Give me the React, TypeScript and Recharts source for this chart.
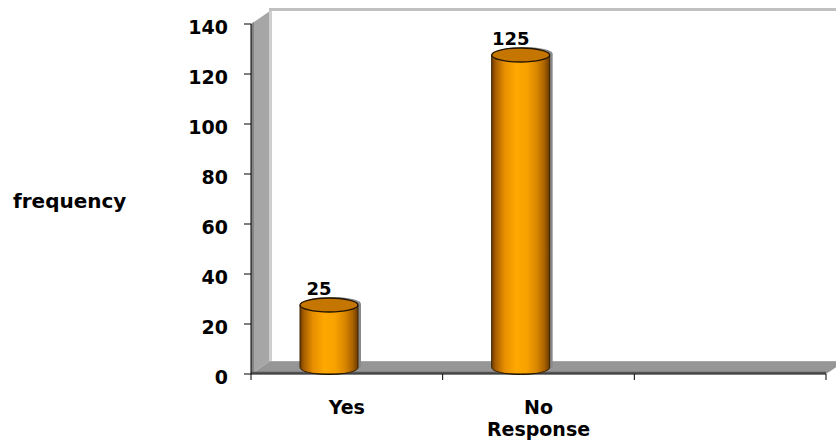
import React from 'react';
import { BarChart, Bar, XAxis, YAxis, LabelList, ReferenceArea, Label } from 'recharts';

// Survey answers and their counts
const categories = ['Yes', 'No', ''];
const frequencies: (number | null)[] = [25, 125, null];
const yTicks = [0, 20, 40, 60, 80, 100, 120, 140];

const data = categories.map((response, i) => ({ response, frequency: frequencies[i] }));

const FONT = '"DejaVu Sans", Verdana, sans-serif';
const WIDTH = 836;
const HEIGHT = 441;
const MARGIN = { top: 24, right: 10, bottom: 7, left: 0 };
const Y_AXIS_WIDTH = 251;
const X_AXIS_HEIGHT = 60;
const PLOT_W = WIDTH - MARGIN.left - MARGIN.right - Y_AXIS_WIDTH;

// 3D depth of the box (back wall offset) and where cylinders sit in it
const DX = 19;
const DY = -13;
const SHIFT_X = -18;
const SHIFT_Y = -6.5;
const RY = 7;

// Back wall, side wall and floor of the pseudo-3D plot box
const Walls = (props: any) => {
  const { x, y, width, height } = props;
  const bottom = y + height;
  const right = x + width;
  const ext = 60;
  return (
    <g>
      <rect x={x + DX} y={y + DY} width={width + ext} height={height} fill="#ffffff" />
      <rect x={x + DX - 1} y={y + DY - 3} width={width + ext} height={3} fill="#c0c0c0" />
      <polygon
        points={`${x},${y} ${x + DX},${y + DY} ${x + DX},${bottom + DY} ${x},${bottom}`}
        fill="#a6a6a6"
      />
      <polygon
        points={`${x},${y} ${x + 3},${y - 2} ${x + 3},${bottom - 2} ${x},${bottom}`}
        fill="#848484"
      />
      <rect x={x + DX - 1} y={y + DY} width={3} height={height} fill="#cfcfcf" />
      <polygon
        points={`${x},${bottom} ${x + DX},${bottom + DY} ${right + DX},${bottom + DY} ${right},${bottom}`}
        fill="#969696"
      />
      <line x1={x + DX} x2={right + DX} y1={bottom + DY + 0.5} y2={bottom + DY + 0.5} stroke="#a8a8a8" strokeWidth={1} />
      <line x1={x} x2={right} y1={bottom - 1.5} y2={bottom - 1.5} stroke="#555555" strokeWidth={1.5} />
    </g>
  );
};

// Orange cylinder standing in the middle of the box depth
const Cylinder = (props: any) => {
  const { x, y, width, height, index } = props;
  if (height == null || !(height > 0)) return null;
  const cx = x + width / 2 + SHIFT_X;
  const rx = width / 2;
  const left = cx - rx;
  const right = cx + rx;
  const top = y + SHIFT_Y;
  const base = y + height + SHIFT_Y;
  const body = `M${left},${top} L${left},${base} A${rx},${RY} 0 0 0 ${right},${base} L${right},${top} Z`;
  const gid = `cylBody${index}`;
  return (
    <g>
      <defs>
        <linearGradient id={gid} x1="0" y1="0" x2="1" y2="0">
          <stop offset="0%" stopColor="#6e3c00" />
          <stop offset="7%" stopColor="#a85f00" />
          <stop offset="22%" stopColor="#e68e00" />
          <stop offset="42%" stopColor="#ffa800" />
          <stop offset="60%" stopColor="#f8a200" />
          <stop offset="78%" stopColor="#d88600" />
          <stop offset="91%" stopColor="#a96200" />
          <stop offset="100%" stopColor="#6a3a00" />
        </linearGradient>
      </defs>
      <path d={body} fill="#8a8a8a" transform="translate(3,-1)" />
      <ellipse cx={cx + 3} cy={top - 1} rx={rx} ry={RY} fill="#8a8a8a" />
      <path d={body} fill={`url(#${gid})`} stroke="#3a2200" strokeWidth={1} />
      <ellipse cx={cx} cy={top} rx={rx} ry={RY} fill="#c47600" stroke="#221400" strokeWidth={1.3} />
    </g>
  );
};

const ValueLabel = (props: any) => {
  const { x, y, width, value } = props;
  if (value == null) return null;
  return (
    <text
      x={x + width / 2 + SHIFT_X - 10}
      y={y + SHIFT_Y - RY - 10}
      textAnchor="middle"
      dominantBaseline="central"
      fontFamily={FONT}
      fontWeight="bold"
      fontSize={18}
      fill="#000"
    >
      {value}
    </text>
  );
};

// Category label at the band centre, tick marks at the band edges
const CategoryTick = (props: any) => {
  const { x, y, payload } = props;
  const half = typeof payload.offset === 'number' && payload.offset > 0 ? payload.offset : PLOT_W / categories.length / 2;
  const axisY = y - 8;
  const isLast = payload.index === categories.length - 1 || payload.value === categories[categories.length - 1];
  return (
    <g>
      <line x1={x - half} x2={x - half} y1={axisY} y2={axisY + 6} stroke="#000" strokeWidth={1} />
      {isLast && <line x1={x + half} x2={x + half} y1={axisY} y2={axisY + 6} stroke="#000" strokeWidth={1} />}
      <text x={x} y={axisY + 39.5} textAnchor="middle" fontFamily={FONT} fontWeight="bold" fontSize={19} fill="#000">
        {payload.value}
      </text>
    </g>
  );
};

const AxisTitle = (props: any) => {
  const { viewBox } = props;
  if (!viewBox) return null;
  return (
    <text
      x={viewBox.x + viewBox.width / 2}
      y={viewBox.y + 61.5}
      textAnchor="middle"
      fontFamily={FONT}
      fontWeight="bold"
      fontSize={19}
      fill="#000"
    >
      Response
    </text>
  );
};

const FrequencyTitle = (props: any) => {
  const { viewBox } = props;
  if (!viewBox) return null;
  return (
    <text
      x={viewBox.x + 13}
      y={viewBox.y + viewBox.height / 2 + 2}
      textAnchor="start"
      dominantBaseline="central"
      fontFamily={FONT}
      fontWeight="bold"
      fontSize={20}
      fill="#000"
    >
      frequency
    </text>
  );
};

export default function App() {
  return (
    <div style={{ position: 'absolute', left: 0, top: 0, width: WIDTH, height: HEIGHT, background: '#fff' }}>
      <BarChart width={WIDTH} height={HEIGHT} data={data} margin={MARGIN} barSize={58}>
        <ReferenceArea y1={0} y2={140} ifOverflow="visible" shape={<Walls />} />
        <XAxis
          dataKey="response"
          type="category"
          height={X_AXIS_HEIGHT}
          interval={0}
          tickLine={false}
          tickSize={6}
          tickMargin={2}
          axisLine={{ stroke: '#000', strokeWidth: 1 }}
          tick={<CategoryTick />}
        >
          <Label content={<AxisTitle />} />
        </XAxis>
        <YAxis
          type="number"
          domain={[0, 140]}
          ticks={yTicks}
          interval={0}
          width={Y_AXIS_WIDTH}
          tickSize={7}
          tickMargin={16}
          axisLine={{ stroke: '#000', strokeWidth: 1 }}
          tickLine={{ stroke: '#000', strokeWidth: 1 }}
          tick={{ fontFamily: FONT, fontWeight: 'bold', fontSize: 19, fill: '#000', dy: 3 }}
        >
          <Label content={<FrequencyTitle />} />
        </YAxis>
        <Bar dataKey="frequency" shape={<Cylinder />} isAnimationActive={false}>
          <LabelList dataKey="frequency" content={<ValueLabel />} />
        </Bar>
      </BarChart>
    </div>
  );
}
